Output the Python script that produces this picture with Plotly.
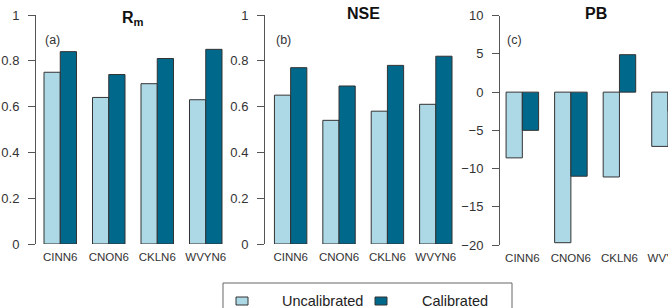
import plotly.graph_objects as go

W, H = 668, 308

stations = ["CINN6", "CNON6", "CKLN6", "WVYN6"]
series_names = ["Uncalibrated", "Calibrated"]
rm_uncal = [0.75, 0.64, 0.70, 0.63]
rm_cal = [0.84, 0.74, 0.81, 0.85]
nse_uncal = [0.65, 0.54, 0.58, 0.61]
nse_cal = [0.77, 0.69, 0.78, 0.82]
pb_uncal = [-8.6, -19.7, -11.1, -7.1]
pb_cal = [-5.0, -11.0, 4.9, -2.5]
panel_titles = ["R<sub>m</sub>", "NSE", "PB"]
panel_labels = ["(a)", "(b)", "(c)"]

LIGHT = "#ADD8E6"
DARK = "#00688B"
FONT = "Liberation Sans, Arial, sans-serif"

def px(x):
    return x / W

def py(y):
    return 1 - y / H

fig = go.Figure()
panels = [(rm_uncal, rm_cal), (nse_uncal, nse_cal), (pb_uncal, pb_cal)]
for i, (u, c) in enumerate(panels):
    ax = "" if i == 0 else str(i + 1)
    for vals, col, nm in [(u, LIGHT, series_names[0]), (c, DARK, series_names[1])]:
        fig.add_trace(go.Bar(
            x=stations, y=vals, name=nm, showlegend=False,
            marker=dict(color=col, line=dict(color="#333333", width=1)),
            xaxis="x" + ax, yaxis="y" + ax,
        ))

common_x = dict(type="category", categoryarray=stations, showline=False, ticks="",
                showgrid=False, zeroline=False, automargin=False,
                tickfont=dict(family=FONT, size=11.5, color="#333333"),
                ticklabelstandoff=4)
common_y = dict(showline=True, linecolor="#555555", linewidth=1, ticks="outside",
                ticklen=7, tickcolor="#555555", showgrid=False, zeroline=False,
                automargin=False,
                tickfont=dict(family=FONT, size=13, color="#333333"),
                ticklabelstandoff=6)

ydom = [py(244), py(15)]
fig.update_layout(
    width=W, height=H, margin=dict(l=0, r=0, t=0, b=0),
    plot_bgcolor="white", paper_bgcolor="white",
    barmode="group", bargap=0.33, bargroupgap=0,
    showlegend=False,
    xaxis=dict(domain=[px(36), px(230)], range=[-0.5, 3.5], anchor="y", **common_x),
    yaxis=dict(domain=ydom, range=[0, 1], tickvals=[0, 0.2, 0.4, 0.6, 0.8, 1],
               ticktext=["0", "0.2", "0.4", "0.6", "0.8", "1"], anchor="x", **common_y),
    xaxis2=dict(domain=[px(265), px(460)], range=[-0.53, 3.5], anchor="y2", **common_x),
    yaxis2=dict(domain=ydom, range=[0, 1], tickvals=[0, 0.2, 0.4, 0.6, 0.8, 1],
                ticktext=["0", "0.2", "0.4", "0.6", "0.8", "1"], anchor="x2", **common_y),
    xaxis3=dict(domain=[px(500), 1.0], range=[-0.46, 3.0], anchor="y3", **common_x),
    yaxis3=dict(domain=[py(245), py(15.7)], range=[-20, 10],
                tickvals=[-20, -15, -10, -5, 0, 5, 10],
                ticktext=["\u221220", "\u221215", "\u221210", "\u22125", "0", "5", "10"],
                anchor="x3", **common_y),
)

anns = []
title_pos = [(133, 19), (363.5, 13.5), (595.5, 13.8)]
label_pos = [(52, 40), (283, 40), (514, 40)]
for t, (x, y) in zip(panel_titles, title_pos):
    anns.append(dict(text="<b>" + t + "</b>", x=px(x), y=py(y), xref="paper", yref="paper",
                     showarrow=False, xanchor="center", yanchor="middle",
                     font=dict(family=FONT, size=16, color="#111111")))
for t, (x, y) in zip(panel_labels, label_pos):
    anns.append(dict(text=t, x=px(x), y=py(y), xref="paper", yref="paper",
                     showarrow=False, xanchor="center", yanchor="middle",
                     font=dict(family=FONT, size=12.5, color="#333333")))

# legend (manual)
shapes = [dict(type="rect", xref="paper", yref="paper", x0=px(223), x1=px(512),
               y0=py(330), y1=py(283), line=dict(color="#666666", width=1),
               fillcolor="rgba(0,0,0,0)")]
leg = [(LIGHT, 236, 280, series_names[0]), (DARK, 375, 420, series_names[1])]
for col, sx, tx, nm in leg:
    shapes.append(dict(type="rect", xref="paper", yref="paper", x0=px(sx), x1=px(sx + 12),
                       y0=py(305), y1=py(297), line=dict(color="#333333", width=1),
                       fillcolor=col))
    anns.append(dict(text=nm, x=px(tx), y=py(301), xref="paper", yref="paper",
                     showarrow=False, xanchor="left", yanchor="middle",
                     font=dict(family=FONT, size=14.5, color="#222222")))

fig.update_layout(annotations=anns, shapes=shapes)
fig.write_html("out.html")
